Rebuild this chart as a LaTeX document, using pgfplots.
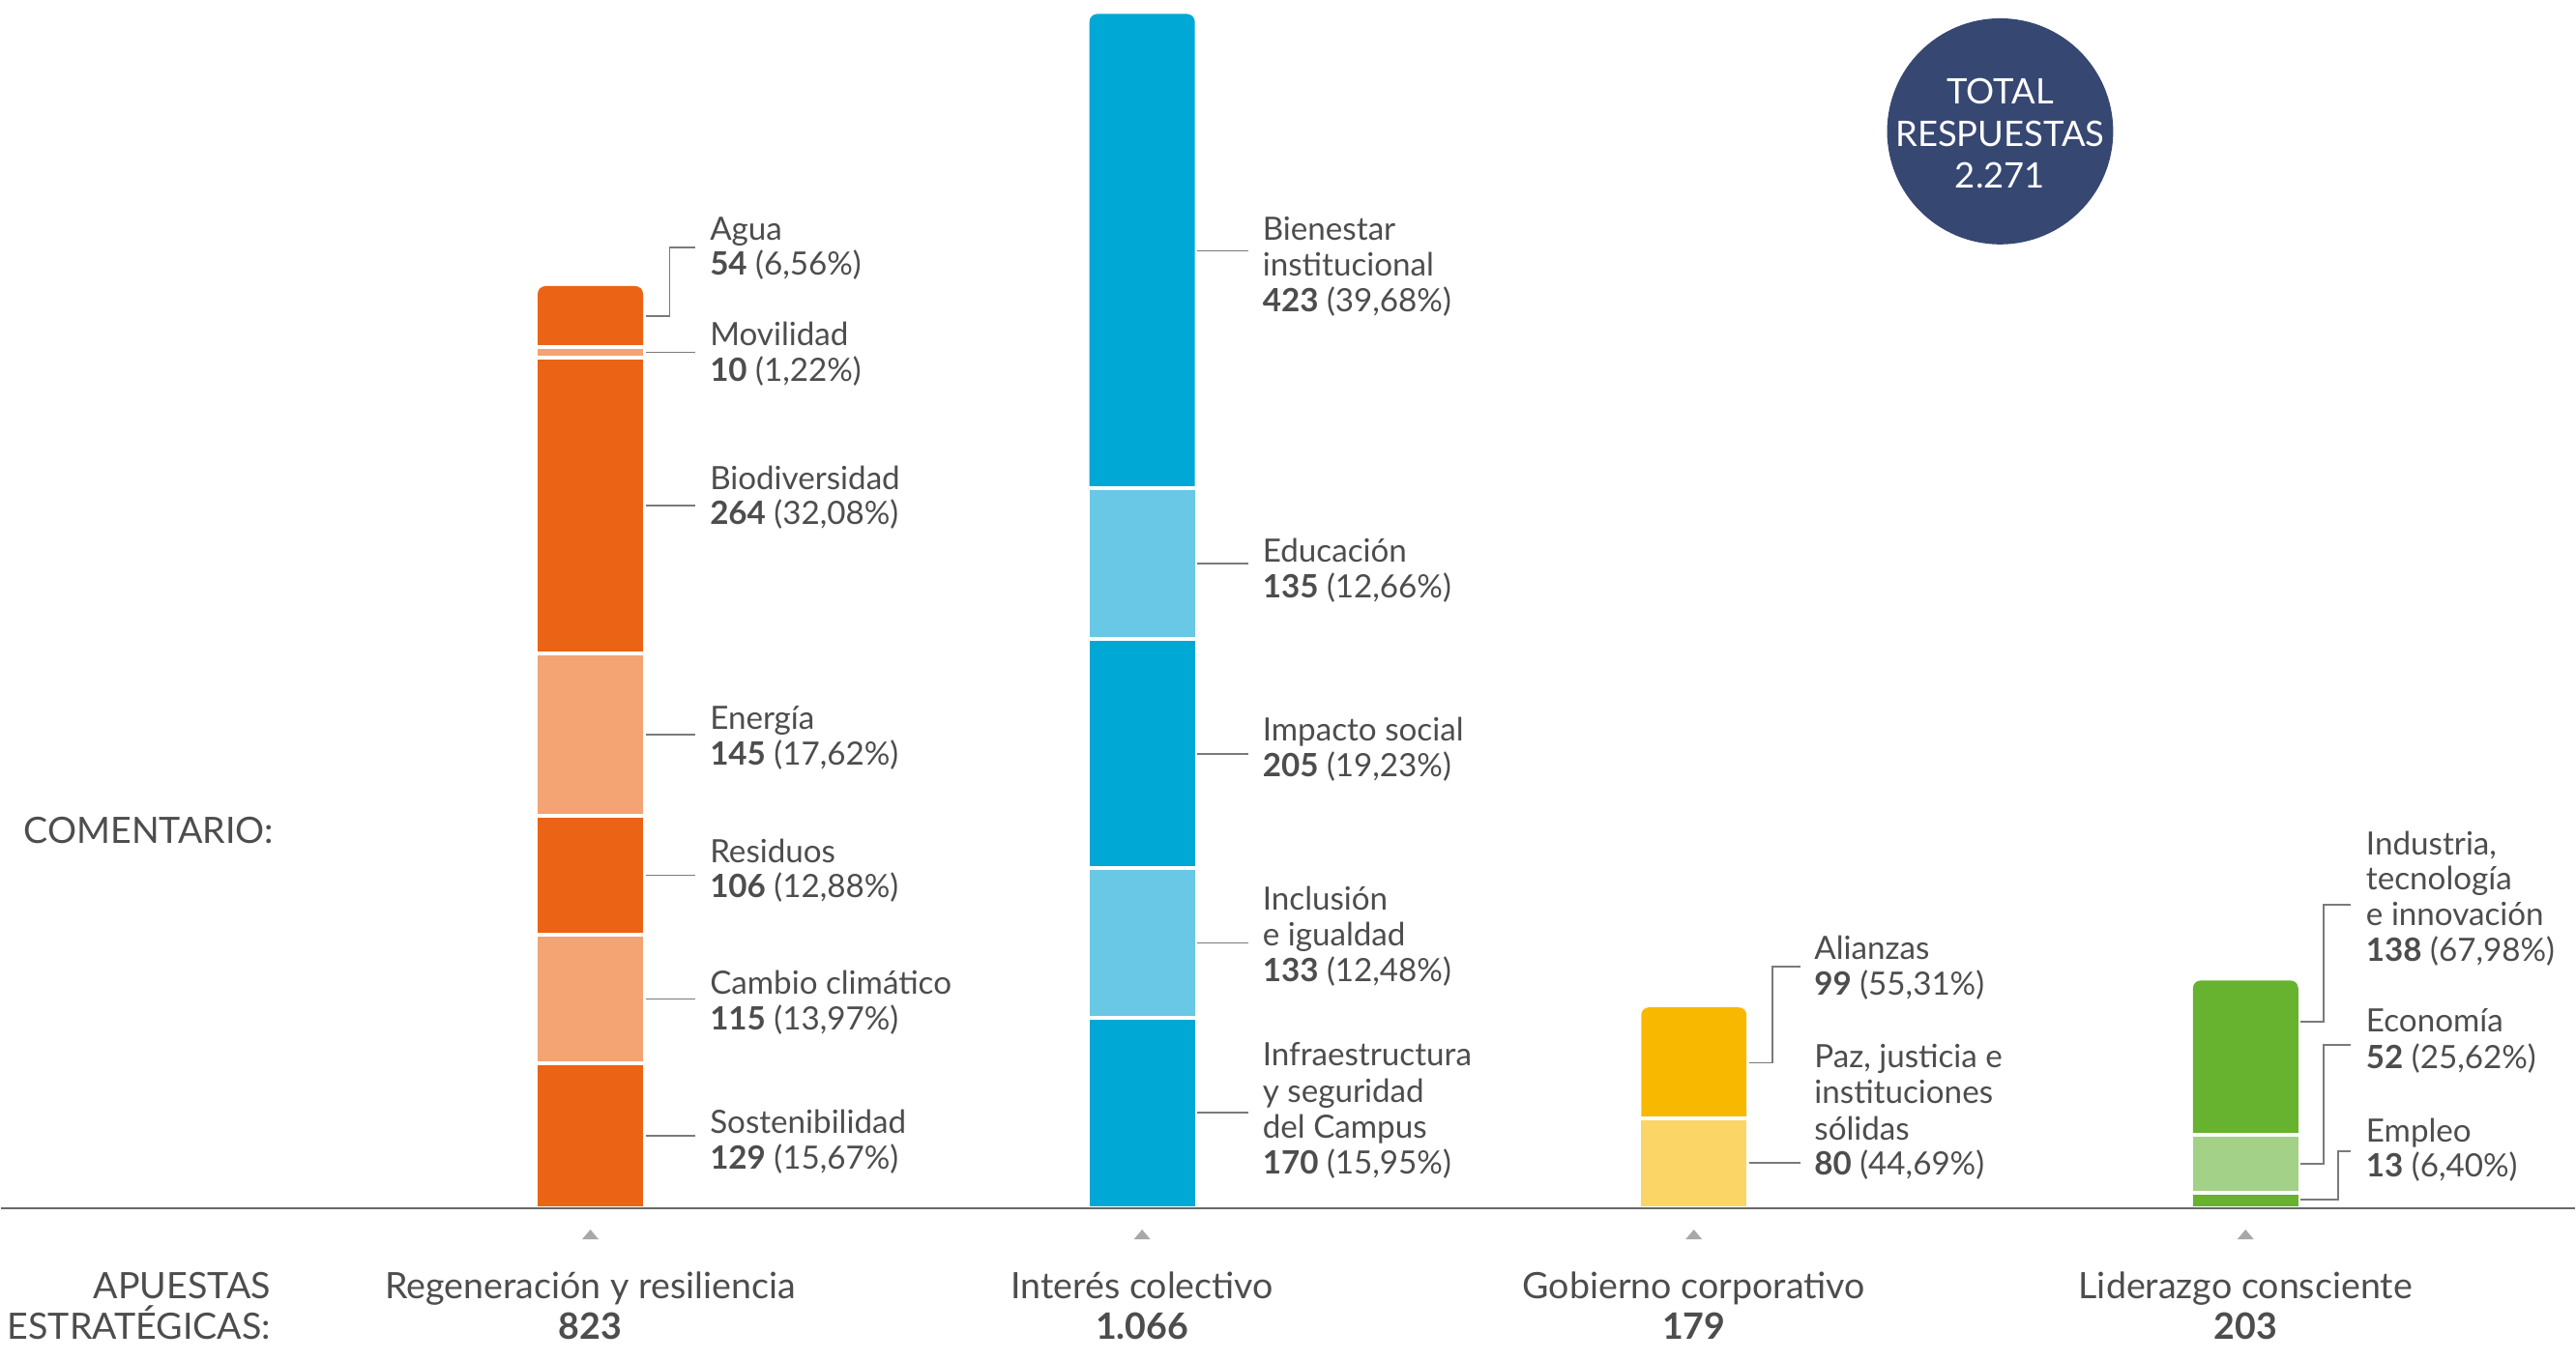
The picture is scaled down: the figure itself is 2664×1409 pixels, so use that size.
\documentclass[border=0pt]{standalone}
\usepackage{pgfplots}
\pgfplotsset{compat=1.18}
\usepackage{fontspec}
\setmainfont{Lato}

\definecolor{oD}{HTML}{EB6314}
\definecolor{oL}{HTML}{F3A472}
\definecolor{bD}{HTML}{00A8D6}
\definecolor{bL}{HTML}{68C8E6}
\definecolor{yD}{HTML}{F9B800}
\definecolor{yL}{HTML}{FBD565}
\definecolor{gD}{HTML}{67B22F}
\definecolor{gL}{HTML}{A3D187}
\definecolor{navy}{HTML}{364772}
\definecolor{txt}{HTML}{4D4D4D}
\definecolor{lead}{HTML}{7A7A7A}
\definecolor{tri}{HTML}{A8A8A8}

\pgfplotsset{base/.style={
  scale only axis, width=666pt, height=352.25pt,
  xmin=0, xmax=2664, ymin=-136.70, ymax=1078.48,
  hide axis, clip=false, anchor=north west, at={(0,0)}}}
\pgfplotsset{seg/.style={draw=white, line width=1pt}}

\tikzset{lbl/.style={anchor=base west, inner sep=0pt, font=\fontsize{8.3}{10}\selectfont, text=txt},
  cat/.style={anchor=base, inner sep=0pt, font=\fontsize{9.4}{11}\selectfont, text=txt},
  ldr/.style={draw=lead, line width=0.45pt}}

\begin{document}
\begin{tikzpicture}
% rounded top segments (full height, top colour)
\begin{axis}[base, ybar, bar width=109, bar shift=0pt]
\addplot[fill=oD, draw=none, rounded corners=2pt] coordinates {(610,823)};
\addplot[fill=bD, draw=none, rounded corners=2pt] coordinates {(1181,1066)};
\addplot[fill=yD, draw=none, rounded corners=2pt] coordinates {(1752,179)};
\addplot[fill=gD, draw=none, rounded corners=2pt] coordinates {(2323,203)};
\end{axis}
% Regeneracion y resiliencia
\begin{axis}[base, ybar stacked, bar width=113]
\addplot[seg, fill=oD] coordinates {(610,129)};
\addplot[seg, fill=oL] coordinates {(610,115)};
\addplot[seg, fill=oD] coordinates {(610,106)};
\addplot[seg, fill=oL] coordinates {(610,145)};
\addplot[seg, fill=oD] coordinates {(610,264)};
\addplot[seg, fill=oL] coordinates {(610,10)};
\end{axis}
% Interes colectivo
\begin{axis}[base, ybar stacked, bar width=113]
\addplot[seg, fill=bD] coordinates {(1181,170)};
\addplot[seg, fill=bL] coordinates {(1181,133)};
\addplot[seg, fill=bD] coordinates {(1181,205)};
\addplot[seg, fill=bL] coordinates {(1181,135)};
\end{axis}
% Gobierno corporativo
\begin{axis}[base, ybar stacked, bar width=113]
\addplot[seg, fill=yL] coordinates {(1752,80)};
\end{axis}
% Liderazgo consciente
\begin{axis}[base, ybar stacked, bar width=113]
\addplot[seg, fill=gD] coordinates {(2323,13)};
\addplot[seg, fill=gL] coordinates {(2323,52)};
\end{axis}

\begin{scope}[x=0.25pt, y=-0.25pt]
\path (0,0) rectangle (2664,1409);
% baseline
\draw[draw=txt!85, line width=0.5pt] (0,1250.5) -- (2664,1250.5);
% triangles
\foreach \cx in {610,1181,1752,2323}{
  \fill[tri] (\cx-8.5,1283) -- (\cx+8.5,1283) -- (\cx,1273) -- cycle;}

% ---- Regeneracion labels
\draw[ldr] (667,327.5) -- (692,327.5) -- (692,256) -- (719,256);
\node[lbl] at (733,249) {Agua};
\node[lbl] at (733,285) {\textbf{54} (6,56\%)};
\draw[ldr] (667,364.7) -- (719,364.7);
\node[lbl] at (733,358) {Movilidad};
\node[lbl] at (733,395) {\textbf{10} (1,22\%)};
\draw[ldr] (667,523.5) -- (719,523.5);
\node[lbl] at (733,507) {Biodiversidad};
\node[lbl] at (733,543) {\textbf{264} (32,08\%)};
\draw[ldr] (667,760.6) -- (719,760.6);
\node[lbl] at (733,755) {Energía};
\node[lbl] at (733,792) {\textbf{145} (17,62\%)};
\draw[ldr] (667,906.1) -- (719,906.1);
\node[lbl] at (733,893) {Residuos};
\node[lbl] at (733,929) {\textbf{106} (12,88\%)};
\draw[ldr] (667,1034.3) -- (719,1034.3);
\node[lbl] at (733,1029) {Cambio climático};
\node[lbl] at (733,1066) {\textbf{115} (13,97\%)};
\draw[ldr] (667,1175.7) -- (719,1175.7);
\node[lbl] at (733,1173) {Sostenibilidad};
\node[lbl] at (733,1210) {\textbf{129} (15,67\%)};

% ---- Interes colectivo labels
\draw[ldr] (1238,259.7) -- (1291,259.7);
\node[lbl] at (1305,249) {Bienestar};
\node[lbl] at (1305,286) {institucional};
\node[lbl] at (1305,323) {\textbf{423} (39,68\%)};
\draw[ldr] (1238,583.2) -- (1291,583.2);
\node[lbl] at (1305,582) {Educación};
\node[lbl] at (1305,619) {\textbf{135} (12,66\%)};
\draw[ldr] (1238,780.3) -- (1291,780.3);
\node[lbl] at (1305,767) {Impacto social};
\node[lbl] at (1305,804) {\textbf{205} (19,23\%)};
\draw[ldr] (1238,976.3) -- (1291,976.3);
\node[lbl] at (1305,942) {Inclusión};
\node[lbl] at (1305,979) {e igualdad};
\node[lbl] at (1305,1016) {\textbf{133} (12,48\%)};
\draw[ldr] (1238,1152) -- (1291,1152);
\node[lbl] at (1305,1103) {Infraestructura};
\node[lbl] at (1305,1141) {y seguridad};
\node[lbl] at (1305,1178) {del Campus};
\node[lbl] at (1305,1215) {\textbf{170} (15,95\%)};

% ---- Gobierno corporativo labels
\draw[ldr] (1809,1100.3) -- (1833,1100.3) -- (1833,1001) -- (1862,1001);
\node[lbl] at (1876,993) {Alianzas};
\node[lbl] at (1876,1030) {\textbf{99} (55,31\%)};
\draw[ldr] (1809,1204) -- (1862,1204);
\node[lbl] at (1876,1105) {Paz, justicia e};
\node[lbl] at (1876,1142) {instituciones};
\node[lbl] at (1876,1180) {sólidas};
\node[lbl] at (1876,1216) {\textbf{80} (44,69\%)};

% ---- Liderazgo consciente labels
\draw[ldr] (2380,1058) -- (2404,1058) -- (2404,937) -- (2432,937);
\node[lbl] at (2447,885) {Industria,};
\node[lbl] at (2447,921) {tecnología};
\node[lbl] at (2447,958) {e innovación};
\node[lbl] at (2447,995) {\textbf{138} (67,98\%)};
\draw[ldr] (2380,1205) -- (2404,1205) -- (2404,1082) -- (2432,1082);
\node[lbl] at (2447,1068) {Economía};
\node[lbl] at (2447,1106) {\textbf{52} (25,62\%)};
\draw[ldr] (2380,1242) -- (2419,1242) -- (2419,1192) -- (2432,1192);
\node[lbl] at (2447,1182) {Empleo};
\node[lbl] at (2447,1218) {\textbf{13} (6,40\%)};

% ---- category labels
\node[cat] at (610,1345) {Regeneración y resiliencia};
\node[cat] at (610,1387) {\textbf{823}};
\node[cat] at (1181,1345) {Interés colectivo};
\node[cat] at (1181,1387) {\textbf{1.066}};
\node[cat] at (1752,1345) {Gobierno corporativo};
\node[cat] at (1752,1387) {\textbf{179}};
\node[cat] at (2323,1345) {Liderazgo consciente};
\node[cat] at (2323,1387) {\textbf{203}};
\node[cat, anchor=base east] at (280,1345) {APUESTAS};
\node[cat, anchor=base east] at (280,1387) {ESTRATÉGICAS:};
\node[anchor=base west, inner sep=0pt, font=\fontsize{9.4}{11}\selectfont, text=txt] at (23,873) {COMENTARIO:};

% ---- total circle
\fill[navy] (2069,136) circle[radius=29.25pt];
\node[anchor=base, inner sep=0pt, font=\fontsize{9.1}{11}\selectfont, text=white] at (2069,108) {TOTAL};
\node[anchor=base, inner sep=0pt, font=\fontsize{9.1}{11}\selectfont, text=white] at (2069,152) {RESPUESTAS};
\node[anchor=base, inner sep=0pt, font=\fontsize{9.1}{11}\selectfont, text=white] at (2069,195) {2.271};
\end{scope}
\end{tikzpicture}
\end{document}
